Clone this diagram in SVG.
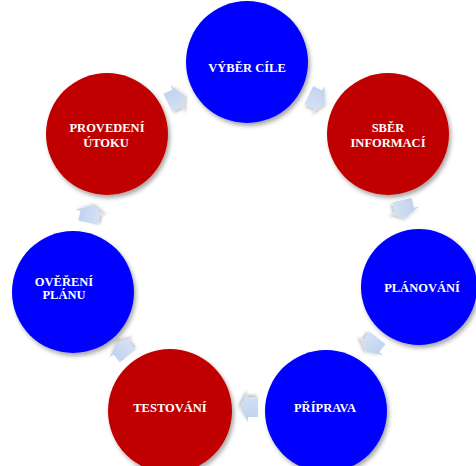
<svg xmlns="http://www.w3.org/2000/svg" width="476" height="466" viewBox="0 0 476 466">
  <defs>
    <filter id="shadow" x="-20%" y="-20%" width="150%" height="150%">
      <feDropShadow dx="2" dy="3" stdDeviation="2" flood-color="#000" flood-opacity="0.35"/>
    </filter>
    <filter id="ashadow" x="-40%" y="-40%" width="190%" height="190%">
      <feDropShadow dx="1.5" dy="2" stdDeviation="1.5" flood-color="#000" flood-opacity="0.25"/>
    </filter>
    <linearGradient id="ag" x1="0" y1="0" x2="0" y2="1">
      <stop offset="0" stop-color="#bcd0ee"/>
      <stop offset="1" stop-color="#d9e4f5"/>
    </linearGradient>
    <path id="arrow" d="M -9 -10 L 1 -10 L 1 -15 L 9 0 L 1 15 L 1 10 L -9 10 Z"/>
  </defs>
  <style>
    .blue { fill: #0000ff; }
    .red { fill: #c00000; }
    .node circle { filter: url(#shadow); }
    .lbl { font-family: "Liberation Serif", "DejaVu Serif", serif; font-weight: bold; font-size: 12.5px; fill: #ffffff; text-anchor: middle; }
    .arr { fill: url(#ag); filter: url(#ashadow); }
  </style>
  <rect width="476" height="466" fill="#ffffff"/>

  <g id="connectors">
    <use href="#arrow" class="arr" transform="translate(176,99) rotate(-25.7)"/>
    <use href="#arrow" class="arr" transform="translate(317,99) rotate(25.7)"/>
    <use href="#arrow" class="arr" transform="translate(404,209) rotate(77.1)"/>
    <use href="#arrow" class="arr" transform="translate(372,345) rotate(128.6)"/>
    <use href="#arrow" class="arr" transform="translate(249,407) rotate(180)"/>
    <use href="#arrow" class="arr" transform="translate(122,349) rotate(231.4)"/>
    <use href="#arrow" class="arr" transform="translate(90,214) rotate(282.9)"/>
  </g>

  <g id="node-vyber" class="node">
    <circle class="blue" cx="247" cy="62" r="61"/>
    <text class="lbl" x="247" y="71.5">VÝBĚR CÍLE</text>
  </g>
  <g id="node-sber" class="node">
    <circle class="red" cx="388" cy="134" r="61"/>
    <text class="lbl" x="388" y="131.5">SBĚR</text>
    <text class="lbl" x="388" y="146.5">INFORMACÍ</text>
  </g>
  <g id="node-planovani" class="node">
    <circle class="blue" cx="419" cy="287" r="58"/>
    <text class="lbl" x="422" y="291.5">PLÁNOVÁNÍ</text>
  </g>
  <g id="node-priprava" class="node">
    <circle class="blue" cx="326" cy="411" r="61"/>
    <text class="lbl" x="325" y="411.5">PŘÍPRAVA</text>
  </g>
  <g id="node-testovani" class="node">
    <circle class="red" cx="170" cy="411" r="62"/>
    <text class="lbl" x="170" y="411.5">TESTOVÁNÍ</text>
  </g>
  <g id="node-overeni" class="node">
    <circle class="blue" cx="73" cy="292" r="61"/>
    <text class="lbl" x="64" y="285.5">OVĚŘENÍ</text>
    <text class="lbl" x="64" y="298.5">PLÁNU</text>
  </g>
  <g id="node-provedeni" class="node">
    <circle class="red" cx="107" cy="134" r="61"/>
    <text class="lbl" x="107" y="131.5">PROVEDENÍ</text>
    <text class="lbl" x="106" y="146.5">ÚTOKU</text>
  </g>
</svg>
